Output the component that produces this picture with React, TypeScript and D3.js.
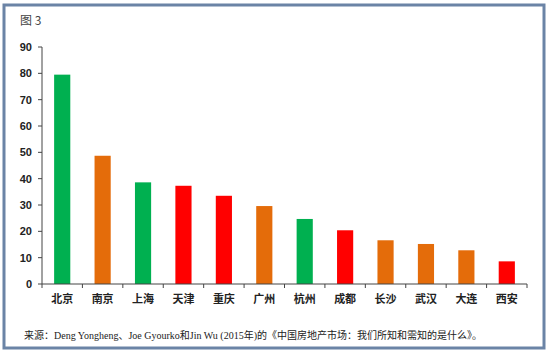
import React from "react";
import * as d3 from "d3";

const categories = ["北京", "南京", "上海", "天津", "重庆", "广州", "杭州", "成都", "长沙", "武汉", "大连", "西安"];
const values = [79.5, 48.7, 38.6, 37.3, 33.5, 29.6, 24.7, 20.4, 16.6, 15.2, 12.8, 8.6];
const colorKeys = ["g", "o", "g", "r", "r", "o", "g", "r", "o", "o", "o", "r"];
const yTicks = [0, 10, 20, 30, 40, 50, 60, 70, 80, 90];
const title = "图 3";
const source = "来源：Deng Yongheng、Joe Gyourko和Jin Wu (2015年)的《中国房地产市场：我们所知和需知的是什么》。";

const palette: Record<string, string> = { g: "#00B050", o: "#E46C0A", r: "#FF0000" };

export default function App() {
  const W = 553, H = 359;
  const x0 = 42, x1 = 527, yTop = 47, yBot = 284;
  const x = d3.scaleBand<string>().domain(categories).range([x0, x1]).paddingInner(0.6).paddingOuter(0.3);
  const xb = d3.scaleBand<string>().domain(categories).range([x0, x1]);
  const y = d3.scaleLinear().domain([0, 90]).range([yBot, yTop]);
  const bounds = d3.range(categories.length + 1).map((i) => x0 + i * xb.step());
  return (
    <svg width={W} height={H} style={{ position: "absolute", left: 0, top: 0, background: "#fff" }}>
      <rect x={0} y={0} width={W} height={H} fill="#fff" />
      <rect x={4} y={5} width={540} height={343} fill="#fff" stroke="#6B84A6" strokeWidth={3} />
      <text x={20} y={25} fontFamily="'Noto Sans CJK SC', sans-serif" fontSize={12} fill="#444">{title}</text>
      {categories.map((c, i) => (
        <rect key={c} x={x(c)} y={y(values[i])} width={x.bandwidth()} height={yBot - y(values[i])} fill={palette[colorKeys[i]]} />
      ))}
      <line x1={x0} x2={x0} y1={yTop} y2={yBot} stroke="#444" strokeWidth={1} />
      <line x1={x0} x2={x1} y1={yBot} y2={yBot} stroke="#444" strokeWidth={1} />
      {yTicks.map((t) => (
        <g key={t}>
          <line x1={x0 - 4} x2={x0} y1={y(t)} y2={y(t)} stroke="#444" />
          <text x={32} y={y(t) + 4} textAnchor="end" fontFamily="Arial, 'Liberation Sans', sans-serif" fontWeight="bold" fontSize={11} fill="#222">{t}</text>
        </g>
      ))}
      {bounds.map((b, i) => (
        <line key={i} x1={b} x2={b} y1={yBot} y2={yBot + 4} stroke="#444" />
      ))}
      {categories.map((c) => (
        <text key={c} x={(xb(c) as number) + xb.bandwidth() / 2} y={303} textAnchor="middle" fontFamily="'Noto Sans CJK SC', sans-serif" fontWeight="bold" fontSize={11} fill="#222">{c}</text>
      ))}
      <text x={24} y={339} fontFamily="'Liberation Serif', 'Noto Sans CJK SC', serif" fontSize={10} fill="#222">{source}</text>
    </svg>
  );
}
